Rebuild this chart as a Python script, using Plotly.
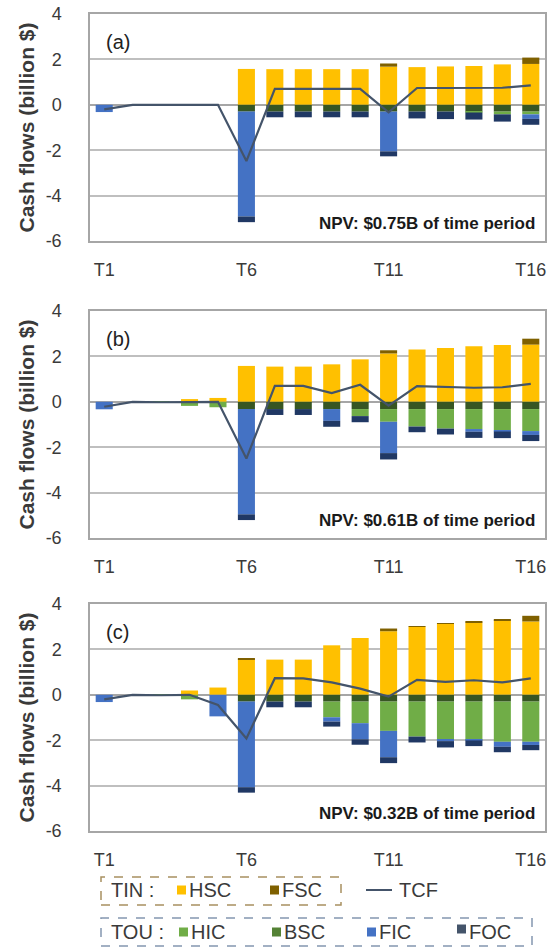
import plotly.graph_objects as go

periods = [f"T{i}" for i in range(1, 17)]
tick_labels = ["T1", "T6", "T11", "T16"]

# ---- Panel (a) ----
HSC_a = [0, 0, 0, 0, 0, 1.58, 1.57, 1.57, 1.57, 1.57, 1.68, 1.66, 1.69, 1.71, 1.78, 1.80]
FSC_a = [0, 0, 0, 0, 0, 0, 0, 0, 0, 0, 0.14, 0, 0, 0, 0, 0.28]
BSC_a = [0, 0, 0, 0, 0, -0.30, -0.30, -0.30, -0.30, -0.30, -0.30, -0.30, -0.30, -0.30, -0.30, -0.30]
HIC_a = [0, 0, 0, 0, 0, 0, 0, 0, 0, 0, 0, 0, 0, -0.04, -0.12, -0.12]
FIC_a = [-0.32, 0, 0, 0, 0, -4.62, 0, 0, 0, 0, -1.75, 0, 0, 0, 0, -0.20]
FOC_a = [0, 0, 0, 0, 0, -0.25, -0.25, -0.25, -0.25, -0.25, -0.22, -0.30, -0.33, -0.31, -0.32, -0.26]
TCF_a = [-0.20, 0, 0, 0, 0, -2.48, 0.70, 0.70, 0.70, 0.70, -0.33, 0.74, 0.74, 0.74, 0.75, 0.86]

# ---- Panel (b) ----
HSC_b = [0, 0, 0, 0.12, 0.17, 1.58, 1.55, 1.55, 1.65, 1.87, 2.13, 2.30, 2.37, 2.45, 2.50, 2.52]
FSC_b = [0, 0, 0, 0, 0, 0, 0, 0, 0, 0, 0.14, 0, 0, 0, 0, 0.26]
BSC_b = [0, 0, 0, 0, 0, -0.32, -0.32, -0.32, -0.32, -0.32, -0.32, -0.32, -0.32, -0.32, -0.32, -0.32]
HIC_b = [0, 0, -0.03, -0.18, -0.24, 0, 0, 0, 0, -0.31, -0.56, -0.77, -0.86, -0.88, -0.94, -0.97]
FIC_b = [-0.33, 0, 0, 0, 0, -4.64, 0, 0, -0.52, 0, -1.38, 0, 0, -0.12, -0.05, -0.17]
FOC_b = [0, 0, 0, 0, 0, -0.25, -0.26, -0.26, -0.26, -0.27, -0.28, -0.25, -0.26, -0.27, -0.29, -0.27]
TCF_b = [-0.22, 0, -0.02, 0, 0, -2.50, 0.70, 0.70, 0.38, 0.75, -0.17, 0.69, 0.66, 0.62, 0.64, 0.79]

# ---- Panel (c) ----
HSC_c = [0, 0, 0, 0.19, 0.32, 1.57, 1.55, 1.55, 2.18, 2.50, 2.80, 3.00, 3.12, 3.18, 3.28, 3.23]
FSC_c = [0, 0, 0, 0, 0, 0.02, 0, 0, 0, 0, 0.12, 0.02, 0.02, 0.03, 0.04, 0.25]
BSC_c = [0, 0, 0, 0, 0, -0.30, -0.30, -0.30, -0.30, -0.30, -0.30, -0.30, -0.30, -0.30, -0.30, -0.30]
HIC_c = [0, 0, -0.03, -0.20, 0, 0, 0, 0, -0.69, -0.95, -1.29, -1.54, -1.69, -1.69, -1.77, -1.77]
FIC_c = [-0.32, 0, 0, 0, -0.95, -3.77, 0, 0, -0.19, -0.71, -1.16, 0, -0.05, -0.02, -0.22, -0.14]
FOC_c = [0, 0, 0, 0, 0, -0.24, -0.25, -0.25, -0.22, -0.24, -0.26, -0.26, -0.28, -0.25, -0.24, -0.23]
TCF_c = [-0.20, 0, -0.02, 0, -0.45, -1.92, 0.73, 0.72, 0.55, 0.27, -0.08, 0.66, 0.57, 0.64, 0.55, 0.72]

panel_labels = ["(a)", "(b)", "(c)"]
npv_texts = ["NPV: $0.75B of time period", "NPV: $0.61B of time period", "NPV: $0.32B of time period"]

colors = {
    "HSC": "#FFC000", "FSC": "#7F6000", "BSC": "#375623",
    "HIC": "#70AD47", "FIC": "#4472C4", "FOC": "#203864", "TCF": "#44546A",
}
legend_foc = "#44546A"

panels = [
    dict(HSC=HSC_a, FSC=FSC_a, BSC=BSC_a, HIC=HIC_a, FIC=FIC_a, FOC=FOC_a, TCF=TCF_a),
    dict(HSC=HSC_b, FSC=FSC_b, BSC=BSC_b, HIC=HIC_b, FIC=FIC_b, FOC=FOC_b, TCF=TCF_b),
    dict(HSC=HSC_c, FSC=FSC_c, BSC=BSC_c, HIC=HIC_c, FIC=FIC_c, FOC=FOC_c, TCF=TCF_c),
]

W, H = 553, 947
FONT = "Liberation Sans, Arial, Helvetica, sans-serif"
TXT = "#3a3a3a"

def px_x(x):
    return x / W

def px_y(y):
    return 1 - y / H

L, R = 90, 545
boxes = [(14, 241), (311, 538), (604, 831)]

fig = go.Figure()
layout = dict(
    width=W, height=H, margin=dict(l=0, r=0, t=0, b=0),
    paper_bgcolor="white", plot_bgcolor="white",
    barmode="relative", bargap=0.4, showlegend=False,
    font=dict(family=FONT, color=TXT),
)

annotations = []
shapes = []

for i, p in enumerate(panels):
    sx = "" if i == 0 else str(i + 1)
    xa, ya = "x" + sx, "y" + sx
    for key in ["HSC", "FSC", "BSC", "HIC", "FIC", "FOC"]:
        fig.add_trace(go.Bar(
            x=periods, y=p[key], name=key, marker=dict(color=colors[key], line=dict(width=0)),
            xaxis=xa, yaxis=ya, showlegend=False,
        ))
    fig.add_trace(go.Scatter(
        x=periods, y=p["TCF"], mode="lines", name="TCF",
        line=dict(color=colors["TCF"], width=2.2), xaxis=xa, yaxis=ya, showlegend=False,
    ))
    top, bot = boxes[i]
    layout["xaxis" + sx] = dict(
        domain=[px_x(L), px_x(R)], anchor=ya, type="category",
        categoryorder="array", categoryarray=periods,
        range=[-0.5, 15.5], tickmode="array", tickvals=tick_labels, ticktext=tick_labels,
        showgrid=False, showline=True, mirror=True, linecolor="#A6A6A6", linewidth=1.5,
        ticks="outside", ticklen=12, tickcolor="rgba(0,0,0,0)",
        tickfont=dict(size=18, family=FONT, color=TXT), fixedrange=True, automargin=False,
    )
    layout["yaxis" + sx] = dict(
        domain=[px_y(bot), px_y(top)], anchor=xa,
        range=[-6, 4], tickvals=[-6, -4, -2, 0, 2, 4], ticktext=["-6", "-4", "-2", "0", "2", "4"],
        showgrid=True, gridcolor="#BFBFBF", gridwidth=1.5,
        zeroline=True, zerolinecolor="#A6A6A6", zerolinewidth=1.5,
        showline=True, mirror=True, linecolor="#A6A6A6", linewidth=1.5,
        ticks="outside", ticklen=23, tickcolor="rgba(0,0,0,0)",
        tickfont=dict(size=18, family=FONT, color=TXT), fixedrange=True, automargin=False,
    )
    annotations.append(dict(
        xref="paper", yref="paper", x=px_x(26), y=px_y((top + bot) / 2),
        text="<b>Cash flows (billion $)</b>", textangle=-90, showarrow=False,
        font=dict(size=21, family=FONT, color=TXT), xanchor="center", yanchor="middle",
    ))
    annotations.append(dict(
        xref="paper", yref="paper", x=px_x(104), y=px_y(top + 28),
        text=panel_labels[i], showarrow=False, xanchor="left", yanchor="middle",
        font=dict(size=20, family=FONT, color="#222222"),
    ))
    annotations.append(dict(
        xref="paper", yref="paper", x=px_x(537), y=px_y(bot - 18),
        text="<b>" + npv_texts[i] + "</b>", showarrow=False, xanchor="right", yanchor="middle",
        font=dict(size=17, family=FONT, color="#1a1a1a"),
    ))

# ---- manual legend ----
LEG_FONT = dict(size=20, family=FONT, color=TXT)
row1_y, row2_y = 890, 932
shapes.append(dict(type="rect", xref="paper", yref="paper",
                   x0=px_x(101), x1=px_x(341), y0=px_y(905), y1=px_y(877),
                   line=dict(color="#A89060", width=1.5, dash="dash"), fillcolor="rgba(0,0,0,0)"))
shapes.append(dict(type="rect", xref="paper", yref="paper",
                   x0=px_x(101), x1=px_x(532), y0=px_y(946), y1=px_y(918),
                   line=dict(color="#8497B0", width=1.5, dash="dash"), fillcolor="rgba(0,0,0,0)"))

def legend_square(x, y, color):
    shapes.append(dict(type="rect", xref="paper", yref="paper",
                       x0=px_x(x), x1=px_x(x + 9), y0=px_y(y + 4.5), y1=px_y(y - 4.5),
                       line=dict(width=0), fillcolor=color))

def legend_text(x, y, text):
    annotations.append(dict(xref="paper", yref="paper", x=px_x(x), y=px_y(y), text=text,
                            showarrow=False, xanchor="left", yanchor="middle", font=LEG_FONT))

legend_text(109, row1_y, "TIN :")
legend_square(177, row1_y, colors["HSC"]); legend_text(187, row1_y, "HSC")
legend_square(270, row1_y, colors["FSC"]); legend_text(280, row1_y, "FSC")
shapes.append(dict(type="line", xref="paper", yref="paper", x0=px_x(366), x1=px_x(392),
                   y0=px_y(row1_y), y1=px_y(row1_y), line=dict(color=colors["TCF"], width=2)))
legend_text(397, row1_y, "TCF")

legend_text(109, row2_y, "TOU :")
legend_square(179, row2_y, colors["HIC"]); legend_text(189, row2_y, "HIC")
legend_square(272, row2_y, "#548235"); legend_text(282, row2_y, "BSC")
legend_square(367, row2_y, colors["FIC"]); legend_text(377, row2_y, "FIC")
legend_square(457, row2_y - 3, legend_foc); legend_text(467, row2_y, "FOC")

layout["annotations"] = annotations
layout["shapes"] = shapes
fig.update_layout(**layout)
fig.write_html(
    "out.html",
    config={"displayModeBar": False, "responsive": False},
    post_script="document.body.style.margin='0';document.body.style.overflow='hidden';",
)
